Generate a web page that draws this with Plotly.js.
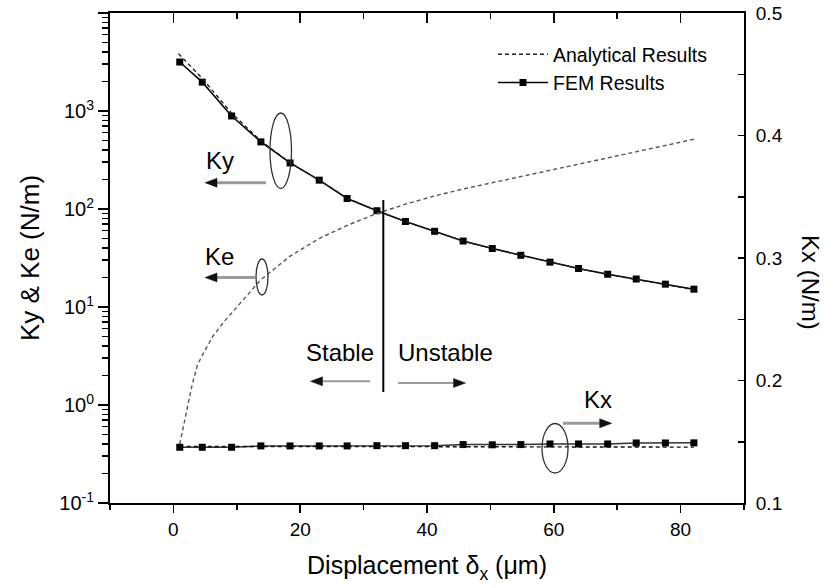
<!DOCTYPE html>
<html><head><meta charset="utf-8">
<script src="https://cdn.plot.ly/plotly-3.0.1.min.js"></script>
<style>html,body{margin:0;padding:0;background:#fff}#chart{width:825px;height:588px}</style>
</head><body><div id="chart"></div>
<script>
// ---------- data ----------
// FEM results (square markers)
const femX  = [1.0, 4.55, 9.18, 13.8, 18.4, 23.0, 27.4, 32.1, 36.6, 41.2, 45.7, 50.3, 54.8, 59.4, 63.9, 68.5, 73.0, 77.6, 82.1];
const femKy = [3160, 1970, 890, 484, 295, 197, 128, 96, 74.5, 59.2, 47.1, 39.5, 33.7, 28.7, 24.7, 21.6, 19.3, 17.1, 15.2];
const femKx = [0.1455, 0.1455, 0.1455, 0.1466, 0.1466, 0.1466, 0.1466, 0.1468, 0.1468, 0.1468, 0.1477, 0.1475, 0.1477, 0.1482, 0.1482, 0.1482, 0.1490, 0.1490, 0.1491];
// Analytical results (dashed lines)
const anaKyX = [0.8, 4.55, 9.18, 13.8, 18.4, 23.0, 27.4, 32.1, 36.6, 41.2, 45.7, 50.3, 54.8, 59.4, 63.9, 68.5, 73.0, 77.6, 82.1];
const anaKy  = [3850, 2150, 950, 495, 297, 197, 129, 96, 74.5, 59, 47, 39.5, 33.6, 28.6, 24.6, 21.5, 19.2, 17.0, 15.0];
const anaKeX = [1.0, 2.1, 2.95, 3.8, 4.6, 6.2, 8.0, 9.2, 13.8, 18.4, 23.0, 27.4, 32.1, 36.6, 41.2, 45.7, 50.3, 54.8, 59.4, 63.9, 68.5, 73.0, 77.6, 82.1];
const anaKe  = [0.40, 0.89, 1.6, 2.57, 3.25, 5.0, 7.1, 8.7, 19, 33, 50, 68, 90, 112, 136, 160, 185, 215, 250, 285, 330, 385, 445, 515];
const anaKxX = [1.0, 4.55, 9.18, 13.8, 18.4, 23.0, 27.4, 32.1, 36.6, 41.2, 45.7, 50.3, 54.8, 59.4, 63.9, 68.5, 73.0, 77.6, 82.1];
const anaKx  = [0.1462, 0.1461, 0.1461, 0.1461, 0.1461, 0.1461, 0.1461, 0.1461, 0.1460, 0.1460, 0.1460, 0.1459, 0.1459, 0.1458, 0.1458, 0.1457, 0.1457, 0.1456, 0.1456];

// tick labels
const xTickVals  = [0, 20, 40, 60, 80];
const yTickVals  = [0.1, 1, 10, 100, 1000, 10000];
const yTickText  = ['10<sup>-1</sup>', '10<sup>0</sup>', '10<sup>1</sup>', '10<sup>2</sup>', '10<sup>3</sup>', '10<sup>4</sup>'];
const y2TickVals = [0.1, 0.2, 0.3, 0.4, 0.5];
const y2TickText = ['0.1', '0.2', '0.3', '0.4', '0.5'];

// ---------- layout helpers ----------
const W = 825, H = 588, L = 110, R = 81, T = 13, B = 85;
const PW = W - L - R, PH = H - T - B;
const fx = px => (px - L) / PW;
const fy = py => (H - B - py) / PH;

const FONT = 'Liberation Sans, Arial, Helvetica, sans-serif';

const yMinor = [];
for (let e = -1; e < 4; e++) for (let d = 2; d <= 9; d++) yMinor.push(d * Math.pow(10, e));
const xMinor = [-10, 10, 30, 50, 70, 90];
const y2Minor = [0.15, 0.25, 0.35, 0.45];

const traces = [
  { x: femX, y: femKy, name: 'FEM Results', mode: 'lines+markers', legendrank: 2,
    line: { color: '#000', width: 1.5 }, marker: { symbol: 'square', size: 7, color: '#000' } },
  { x: anaKyX, y: anaKy, name: 'Analytical Results', mode: 'lines', legendrank: 1,
    line: { color: '#222', width: 1.4, dash: '4px,3px' } },
  { x: anaKeX, y: anaKe, name: 'Ke analytical', mode: 'lines', showlegend: false,
    line: { color: '#555', width: 1.4, dash: '4px,3px' } },
  { x: femX, y: femKx, name: 'Kx FEM', mode: 'lines+markers', showlegend: false, xaxis: 'x2', yaxis: 'y2',
    line: { color: '#333', width: 1.5 }, marker: { symbol: 'square', size: 7, color: '#000' } },
  { x: anaKxX, y: anaKx, name: 'Kx analytical', mode: 'lines', showlegend: false, xaxis: 'x2', yaxis: 'y2',
    line: { color: '#111', width: 1.4, dash: '4px,3px' } }
];

const shapes = [];
const annotations = [];
function ellipse(x0, x1, y0, y1) {
  shapes.push({ type: 'circle', xref: 'paper', yref: 'paper', x0: fx(x0), x1: fx(x1), y0: fy(y1), y1: fy(y0),
    line: { color: '#333', width: 1.3 } });
}
function arrow(xTail, xTip, y, w) {
  const dir = xTip < xTail ? 1 : -1;
  const xb = xTip + dir * 12;
  shapes.push({ type: 'line', xref: 'paper', yref: 'paper', x0: fx(xTail), x1: fx(xb), y0: fy(y), y1: fy(y),
    line: { color: '#9a9a9a', width: w } });
  const p = 'M' + fx(xTip) + ',' + fy(y) + ' L' + fx(xb) + ',' + fy(y - 4.5) + ' L' + fx(xb) + ',' + fy(y + 4.5) + ' Z';
  shapes.push({ type: 'path', xref: 'paper', yref: 'paper', path: p, fillcolor: '#111', line: { color: '#111', width: 0.5 } });
}
function label(text, cx, cy, size) {
  annotations.push({ xref: 'paper', yref: 'paper', x: fx(cx), y: fy(cy), text: text, showarrow: false,
    xanchor: 'center', yanchor: 'middle', font: { family: FONT, size: size || 24, color: '#000' } });
}

ellipse(270, 291.5, 113, 188.5);   // Ky
ellipse(256, 268, 259, 295);       // Ke
ellipse(542, 568, 423.5, 473);     // Kx
shapes.push({ type: 'line', xref: 'paper', yref: 'paper', x0: fx(383.3), x1: fx(383.3), y0: fy(200), y1: fy(392),
  line: { color: '#000', width: 2 } });

arrow(266, 205, 182.7, 3);
arrow(255, 205, 277.5, 3);
arrow(370, 310.5, 381.3, 2);
arrow(398, 465.5, 383, 2);
arrow(563, 611.7, 423.3, 3);

label('Ky', 220, 161);
label('Ke', 219, 256.5);
label('Stable', 340, 352);
label('Unstable', 445.5, 352);
label('Kx', 598, 399);

annotations.push({ xref: 'paper', yref: 'paper', x: fx(810), y: fy(282), text: 'Kx (N/m)', textangle: 90,
  showarrow: false, xanchor: 'center', yanchor: 'middle', font: { family: FONT, size: 24, color: '#000' } });

const axCommon = { showgrid: false, zeroline: false, showline: true, linecolor: '#000', linewidth: 2,
  tickcolor: '#000', tickwidth: 1.5, tickfont: { family: FONT, size: 19, color: '#000' } };

const layout = {
  width: W, height: H,
  margin: { l: L, r: R, t: T, b: B, pad: 0 },
  paper_bgcolor: '#fff', plot_bgcolor: '#fff',
  font: { family: FONT, color: '#000' },
  showlegend: true,
  legend: { x: fx(493), y: fy(35), xanchor: 'left', yanchor: 'top', bgcolor: 'rgba(0,0,0,0)',
    font: { family: FONT, size: 19.5, color: '#000' }, itemwidth: 50, tracegroupgap: 0 },
  xaxis: Object.assign({}, axCommon, {
    range: [-10, 90], tickmode: 'array', tickvals: xTickVals, ticks: 'outside', ticklen: 8,
    minor: { tickmode: 'array', tickvals: xMinor, ticks: 'outside', ticklen: 5, tickwidth: 1.5, tickcolor: '#000' },
    title: { text: 'Displacement δ<sub>x</sub> (μm)', font: { family: FONT, size: 25, color: '#000' }, standoff: 18 }
  }),
  xaxis2: Object.assign({}, axCommon, {
    overlaying: 'x', side: 'top', anchor: 'y2', range: [-10, 90], tickmode: 'array', tickvals: xTickVals,
    ticks: 'inside', ticklen: 10, showticklabels: false,
    minor: { tickmode: 'array', tickvals: xMinor, ticks: 'inside', ticklen: 6, tickwidth: 1.5, tickcolor: '#000' }
  }),
  yaxis: Object.assign({}, axCommon, {
    type: 'log', range: [-1, 4], tickmode: 'array', tickvals: yTickVals, ticktext: yTickText,
    ticks: 'outside', ticklen: 10, tickfont: { family: FONT, size: 20, color: '#000' },
    minor: { tickmode: 'array', tickvals: yMinor, ticks: 'outside', ticklen: 6, tickwidth: 1.5, tickcolor: '#000' },
    title: { text: 'Ky & Ke (N/m)', font: { family: FONT, size: 26, color: '#000' }, standoff: 12 }
  }),
  yaxis2: Object.assign({}, axCommon, {
    overlaying: 'y', side: 'right', anchor: 'x2', range: [0.1, 0.5], tickmode: 'array',
    tickvals: y2TickVals, ticktext: y2TickText, ticks: 'inside', ticklen: 6, ticklabelstandoff: 6,
    minor: { tickmode: 'array', tickvals: y2Minor, ticks: 'inside', ticklen: 6, tickwidth: 1.5, tickcolor: '#000' }
  }),
  shapes: shapes,
  annotations: annotations
};

Plotly.newPlot('chart', traces, layout, { displayModeBar: false, staticPlot: true });
</script>
</body></html>
